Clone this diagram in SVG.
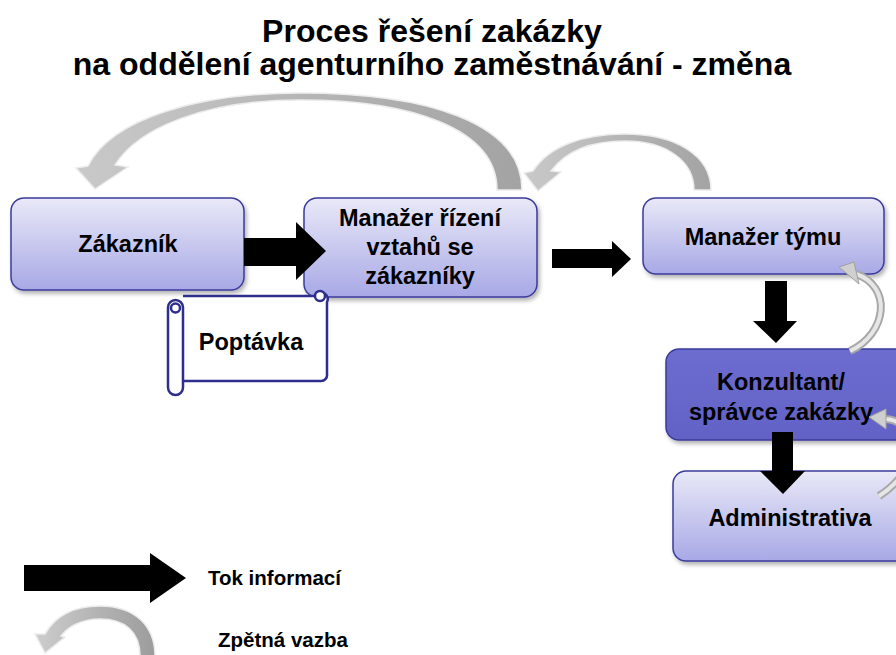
<svg xmlns="http://www.w3.org/2000/svg" width="896" height="655" viewBox="0 0 896 655">
<defs>
  <linearGradient id="boxg" x1="0" y1="0" x2="0" y2="1">
    <stop offset="0" stop-color="#e9e9f8"/>
    <stop offset="1" stop-color="#a8a8e6"/>
  </linearGradient>
  <linearGradient id="darkg" x1="0" y1="0" x2="0" y2="1">
    <stop offset="0" stop-color="#6d6dd0"/>
    <stop offset="1" stop-color="#6262c6"/>
  </linearGradient>
  <linearGradient id="arcg" x1="0" y1="0" x2="1" y2="0">
    <stop offset="0" stop-color="#c9c9c9"/>
    <stop offset="1" stop-color="#a3a3a3"/>
  </linearGradient>
  <linearGradient id="arcg2" x1="1" y1="0" x2="0" y2="0">
    <stop offset="0" stop-color="#9c9c9c"/>
    <stop offset="1" stop-color="#cdcdcd"/>
  </linearGradient>
  <filter id="sh" x="-10%" y="-10%" width="130%" height="140%">
    <feDropShadow dx="2" dy="3" stdDeviation="2" flood-color="#000" flood-opacity="0.3"/>
  </filter>
</defs>
<style>
  text { font-family: "Liberation Sans", Arial, sans-serif; font-weight: bold; fill: #000; }
  .title { font-size: 32px; text-anchor: middle; }
  .node { font-size: 23.5px; text-anchor: middle; }
  .leg { font-size: 20.5px; }
  .box { fill: url(#boxg); stroke: #3b3b9c; stroke-width: 1.5; filter: url(#sh); }
  .dark { fill: url(#darkg); stroke: #3b3b9c; stroke-width: 1.5; filter: url(#sh); }
  .flow { fill: #000; }
  .arc { fill: url(#arcg); stroke: #ececec; stroke-width: 1.5; }
  .sarc { fill: none; stroke: #a8a8a8; stroke-width: 8; }
  .sarcin { fill: none; stroke: #e6e6e6; stroke-width: 4; }
  .shead { fill: #cfcfcf; stroke: #a0a0a0; stroke-width: 1; }
  .scroll { fill: #fff; stroke: #2e2e8c; stroke-width: 2.5; }
</style>

<g id="title">
  <text class="title" x="432" y="42">Proces řešení zakázky</text>
  <text class="title" x="432" y="75">na oddělení agenturního zaměstnávání - změna</text>
</g>

<g id="zakaznik">
  <rect class="box" x="11" y="198" width="233" height="92" rx="13"/>
  <text class="node" x="128" y="252">Zákazník</text>
</g>

<g id="manazer-rizeni">
  <rect class="box" x="304" y="198" width="233" height="99" rx="13"/>
  <text class="node" x="420" y="226">Manažer řízení</text>
  <text class="node" x="420" y="255">vztahů se</text>
  <text class="node" x="420" y="284">zákazníky</text>
</g>

<g id="manazer-tymu">
  <rect class="box" x="643" y="198" width="241" height="76" rx="13"/>
  <text class="node" x="763" y="245">Manažer týmu</text>
</g>

<g id="konzultant">
  <rect class="dark" x="666" y="349" width="245" height="91" rx="13"/>
  <text class="node" x="781" y="390">Konzultant/</text>
  <text class="node" x="781" y="420">správce zakázky</text>
</g>

<g id="administrativa">
  <rect class="box" x="673" y="471" width="245" height="90" rx="13"/>
  <text class="node" x="790" y="526">Administrativa</text>
</g>

<g id="poptavka">
  <path class="scroll" d="M183,296 H316 A6,6 0 0 1 327,302 V374 A6,6 0 0 1 321,381 H183"/>
  <circle class="scroll" cx="320" cy="296" r="5"/>
  <rect class="scroll" x="168" y="300" width="15" height="95" rx="7.5"/>
  <circle class="scroll" cx="175.5" cy="308" r="4.5"/>
  <text class="node" x="251" y="350">Poptávka</text>
</g>

<g id="connectors">
  <!-- information flow -->
  <polygon class="flow" points="244,238 296,238 296,222 326,251 296,280 296,266 244,266"/>
  <polygon class="flow" points="552,249 612,249 612,241 631,259 612,277 612,268 552,268"/>
  <polygon class="flow" points="765,281 787,281 787,321 797,321 776,343 753,321 765,321"/>
  <polygon class="flow" points="772,432 793,432 793,471 805,471 783,494 760,471 772,471"/>

  <!-- feedback: Manažer řízení -> Zákazník -->
  <path class="arc" d="M497,190 C497,128 410,100 300,100 C205,100 138,128 115,165 L128,167 L95,189 L76,168 L88,166 C112,118 200,93 300,93 C425,93 522,122 522,190 Z"/>
  <!-- feedback: Manažer týmu -> Manažer řízení -->
  <path class="arc" d="M694,190 C694,160 665,141 625,141 C590,141 565,152 551,171 L561,172 L538,191 L524,173 L533,171 C550,145 585,134 625,134 C675,134 711,155 711,190 Z"/>

  <!-- feedback: Konzultant -> Manažer týmu -->
  <path class="sarc" d="M850,351 C888,333 892,286 856,274"/>
  <path class="sarcin" d="M850,351 C888,333 892,286 856,274"/>
  <polygon class="shead" points="839,267 854,262 859,284"/>
  <!-- feedback: Administrativa -> Konzultant -->
  <path class="sarc" d="M879,496 C898,484 916,462 910,442 C905,425 897,419 884,419"/>
  <path class="sarcin" d="M879,496 C898,484 916,462 910,442 C905,425 897,419 884,419"/>
  <polygon class="shead" points="869,417 886,409 886,429"/>
</g>

<g id="legend">
  <polygon class="flow" points="24,565 150,565 150,553 186,578 150,603 150,591 24,591"/>
  <text class="leg" x="208" y="585">Tok informací</text>
  <path fill="url(#arcg2)" stroke="#ececec" stroke-width="1.5" d="M140,656 C140,632 125,619 100,619 C80,619 67,628 61,636 L65,637 L45,653 L35,634 L45,634 C56,615 75,606 100,606 C135,606 155,626 155,656 Z"/>
  <text class="leg" x="218" y="647">Zpětná vazba</text>
</g>
</svg>
